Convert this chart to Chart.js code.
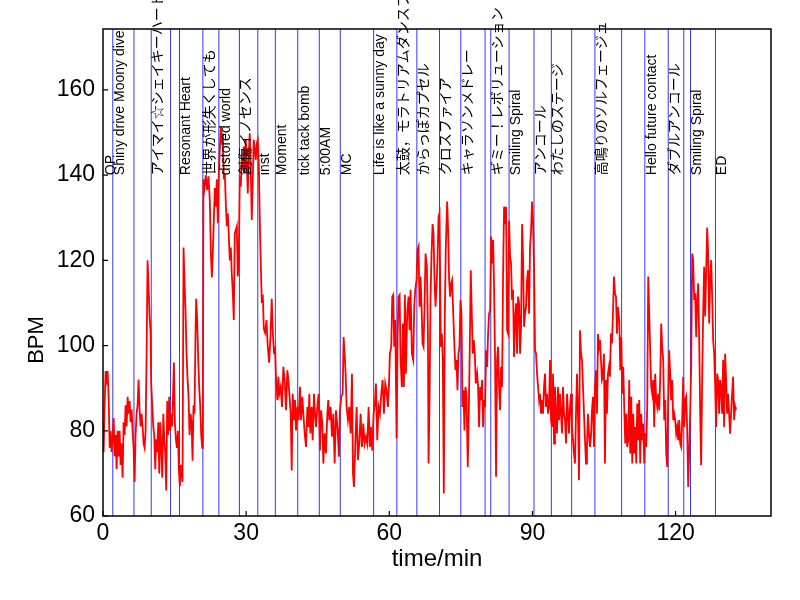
<!DOCTYPE html>
<html>
<head>
<meta charset="utf-8">
<script src="https://cdn.jsdelivr.net/npm/chart.js@4.4.0/dist/chart.umd.min.js"></script>
<style>
  body { margin: 0; background: #fff; }
</style>
</head>
<body>
<canvas id="hrChart" width="800" height="600"></canvas>
<script>
// heart rate over the concert (time in minutes)
const minutes = [
  0.00, 0.13, 0.34, 0.55, 0.76, 0.97, 1.18, 1.39, 1.60, 1.81,
  2.02, 2.23, 2.44, 2.64, 2.85, 3.06, 3.27, 3.48, 3.69, 3.90,
  4.11, 4.32, 4.53, 4.74, 4.95, 5.16, 5.37, 5.58, 5.79, 6.00,
  6.20, 6.41, 6.62, 6.83, 7.04, 7.25, 7.46, 7.67, 7.88, 8.09,
  8.30, 8.51, 8.72, 8.93, 9.14, 9.34, 9.55, 9.76, 9.97, 10.11,
  10.32, 10.53, 10.74, 10.95, 11.16, 11.37, 11.58, 11.79, 12.00, 12.21,
  12.42, 12.64, 12.84, 13.04, 13.25, 13.46, 13.67, 13.88, 14.09, 14.30,
  14.51, 14.86, 15.07, 15.28, 15.49, 15.70, 15.90, 16.11, 16.32, 16.53,
  16.67, 16.88, 17.09, 17.30, 17.51, 17.73, 17.93, 18.14, 18.35, 18.56,
  18.77, 18.97, 19.18, 19.39, 19.53, 19.74, 19.95, 20.17, 20.37, 20.58,
  20.79, 20.93,
  21.05, 21.27, 21.55, 21.83, 22.11, 22.39, 22.60, 22.81, 23.02, 23.23,
  23.44, 23.65, 23.86, 24.07, 24.27, 24.48, 24.69, 24.90, 25.11, 25.32,
  25.53, 25.74, 25.95, 26.16, 26.37, 26.58, 26.79, 26.98, 27.21, 27.41,
  27.62, 27.83, 28.04, 28.25, 28.46, 28.67, 28.88, 29.09, 29.30, 29.51,
  29.72, 29.93, 30.14, 30.35, 30.56, 30.76, 30.97, 31.18, 31.39, 31.60,
  31.81, 32.02, 32.23, 32.44, 32.65, 32.86, 33.07, 33.28, 33.49, 33.70,
  33.98, 34.26, 34.54, 34.82, 35.10, 35.36, 35.57, 35.85, 36.06,
  36.27, 36.55, 36.75, 36.96, 37.24, 37.52, 37.80, 38.08, 38.36, 38.64,
  38.85, 39.06, 39.34, 39.55, 39.76, 40.03, 40.24, 40.45, 40.73, 41.01,
  41.29, 41.50, 41.78, 41.99, 42.27, 42.55, 42.83, 43.04, 43.24, 43.45,
  43.73, 43.94, 44.22, 44.43, 44.64, 44.92, 45.20, 45.48, 45.69, 45.97,
  46.18, 46.45, 46.73, 47.01, 47.22, 47.43, 47.71, 47.99, 48.27, 48.55,
  48.83, 49.18, 49.45, 49.66, 49.94, 50.22, 50.43, 50.64, 50.85, 51.06,
  51.34, 51.62, 51.90, 52.18, 52.39, 52.60, 52.88, 53.15, 53.43, 53.71,
  53.99, 54.27, 54.55, 54.83, 55.11, 55.39, 55.67, 55.94, 56.15, 56.43,
  56.71, 56.99, 57.20, 57.48, 57.76, 58.04, 58.32, 58.60, 58.88, 59.15,
  59.43, 59.71, 59.92, 60.13, 60.41, 60.62, 60.83, 61.04, 61.25, 61.53,
  61.74, 61.95, 62.16, 62.37, 62.64, 62.85, 63.06, 63.27, 63.48, 63.76,
  64.04, 64.25, 64.46, 64.74, 65.02, 65.23, 65.44, 65.71, 65.92, 66.13,
  66.34, 66.55, 66.76, 66.97, 67.18, 67.39, 67.60, 67.88, 68.09, 68.23,
  68.44, 68.65, 68.86, 69.07, 69.27, 69.48, 69.69, 69.90, 70.11, 70.32,
  70.53,
  70.80, 71.01, 71.22, 71.43, 71.64, 71.85, 72.13, 72.33, 72.54, 72.75,
  72.96, 73.17, 73.38, 73.66, 73.87, 74.08, 74.29, 74.50, 74.71, 74.92,
  75.13, 75.34, 75.55, 75.75, 75.96, 76.17, 76.45, 76.66, 76.87, 77.08,
  77.29, 77.50, 77.71, 77.92, 78.13, 78.41, 78.61, 78.82, 79.03, 79.24,
  79.45, 79.66, 79.87, 80.08, 80.29, 80.50, 80.71, 80.92, 81.13, 81.34,
  81.55, 81.76, 81.97, 82.17, 82.38, 82.59, 82.80, 83.01, 83.22, 83.43,
  83.64, 83.85, 84.06, 84.27, 84.48, 84.69, 84.90, 85.11, 85.31, 85.52,
  85.73, 85.94, 86.15, 86.36, 86.57, 86.78, 86.99, 87.20, 87.41, 87.62,
  87.83, 88.04, 88.25, 88.45, 88.66, 88.87, 89.08, 89.29, 89.50, 89.71,
  89.92, 90.13, 90.34, 90.55, 90.76, 90.97, 91.18, 91.39, 91.59, 91.80,
  92.01, 92.22, 92.43, 92.64, 92.85, 93.06, 93.27, 93.48, 93.69, 93.90,
  94.11, 94.32, 94.53, 94.73, 94.94, 95.15, 95.36, 95.57, 95.78, 95.99,
  96.20, 96.41, 96.62, 96.83, 97.04, 97.25, 97.46, 97.67, 97.88, 98.09,
  98.29, 98.50, 98.71, 98.92, 99.13, 99.34, 99.55, 99.76, 99.97, 100.18,
  100.39, 100.60, 100.81, 101.02, 101.23, 101.43, 101.64, 101.85, 102.06, 102.27,
  102.48, 102.69, 102.90, 103.11, 103.32, 103.53, 103.74, 103.95, 104.16, 104.37,
  104.57, 104.78, 104.99, 105.20, 105.41, 105.62, 105.83, 106.04, 106.25, 106.46,
  106.67, 106.88, 107.09, 107.30, 107.51, 107.72, 107.92, 108.20,
  108.41, 108.62, 108.83, 109.03, 109.24, 109.45, 109.66, 109.87, 110.08, 110.29,
  110.50, 110.71, 110.92, 111.13, 111.34, 111.55, 111.76, 111.97, 112.17, 112.38,
  112.59, 112.80, 113.01, 113.22, 113.43, 113.64, 113.85, 114.06, 114.27, 114.48,
  114.69, 114.90, 115.11, 115.32, 115.52, 115.73, 115.94, 116.15, 116.36, 116.57,
  116.78, 116.99, 117.20, 117.41, 117.62, 117.83, 118.04, 118.25, 118.46, 118.66,
  118.87, 119.08, 119.29, 119.50, 119.71, 119.92, 120.13, 120.34, 120.55, 120.76,
  120.97, 121.18, 121.39, 121.60, 121.81, 122.02, 122.22, 122.43, 122.64, 122.85,
  123.06, 123.27, 123.48, 123.69, 123.90, 124.11, 124.32, 124.53, 124.74, 124.95,
  125.16, 125.36, 125.57, 125.78, 125.99, 126.20, 126.41, 126.62, 126.83, 127.04,
  127.25, 127.46, 127.67, 127.88, 128.09, 128.29, 128.50, 128.71, 128.92, 129.13,
  129.34, 129.55, 129.76, 129.97, 130.18, 130.39, 130.60, 130.80, 131.01, 131.22,
  131.43, 131.64, 131.85, 132.06, 132.27, 132.48, 132.62
];

const bpm = [
  82, 75, 86, 94, 92, 94, 88, 76, 80, 75,
  78, 83, 74, 79, 71, 80, 74, 80, 72, 77,
  69, 82, 79, 86, 81, 88, 84, 87, 82, 85,
  80, 76, 68, 79, 84, 86, 92, 85, 81, 84,
  81, 77, 76, 80, 98, 120, 114, 107, 103, 91,
  86, 81, 79, 71, 78, 75, 82, 70, 82, 76,
  69, 84, 78, 75, 66, 87, 79, 88, 80, 84,
  81, 96, 82, 78, 76, 80, 71, 67, 72, 70,
  68, 123, 115, 108, 98, 92, 88, 79, 84, 82,
  73, 86, 84, 103, 111, 106, 97, 90, 86, 79,
  76, 80,
  139, 137, 140, 136.5, 139.7, 134, 122, 116, 122, 129.5,
  137, 132.6, 139, 128.7, 140.4, 146, 151.4, 148.3, 149.8, 139,
  140.4, 133.4, 128, 131, 125.6, 120, 123, 117, 112.3, 106,
  126.4, 127.1, 128, 116.2, 120, 139.7, 137.3, 144.3, 141.2, 146.7,
  140.4, 148.3, 142.8, 135.7, 145.1, 149.8, 141.2, 129.5, 138.9, 148.3,
  146, 143.6, 147.5, 148.3, 142.8, 129.5, 119, 110, 112, 104,
  103, 106, 99.7, 96, 102, 111, 103.6, 98, 99.7,
  91.9, 87.2, 92.7, 88.7, 90.3, 85.6, 95.0, 91.9, 84.8, 94.2,
  91.9, 88.7, 84.0, 70.7, 88.7, 82.5, 87.2, 80.1, 85.6, 82.5,
  90.3, 82.5, 88.0, 84.0, 79.4, 76.2, 85.6, 80.9, 88.7, 79.4,
  85.6, 77.8, 88.7, 84.0, 80.9, 85.6, 88.7, 75.4, 84.8, 81.7,
  72.3, 79.4, 74.7, 84.0, 87.2, 82.5, 85.6, 78.6, 84.0, 72.3,
  84.8, 80.1, 73.9, 84.8, 88.0, 88.7, 102.0, 98.1, 93.4, 85.6,
  82.5, 85.6, 79.4, 93.4, 70.0, 66.8, 77.0, 85.6, 73.1, 77.0,
  84.0, 76.2, 81.7, 77.0, 78.6, 77.0, 85.6, 76.2, 80.9, 75.4,
  84.0, 86.4, 91.1, 77.8, 85.6, 84.0, 88.7, 91.9, 84.0, 91.1,
  89.5, 85.6, 90.3, 98.1, 99.7, 111.4, 111.9, 99.7, 106.0, 78.2,
  102.0, 111.5, 111.9, 96.6, 90.3, 105.2, 90.3, 111.9, 93.4, 107.5,
  111.5, 103.6, 113.1, 98.1, 96.6, 109.1, 113.1, 115.4, 122.4, 123.2,
  109.1, 116.2, 109.1, 100.5, 99.7, 109.1, 121.6, 118.5, 103.6, 72.3,
  87.2, 111.5, 121.6, 128.5, 126.3, 115.4, 109.1, 113.8, 120.1, 130.2,
  131.1,
  99.7, 102.8, 96.6, 65.3, 107.5, 123.2, 133.8, 127.1, 115.4, 111.5,
  114.6, 115.4, 108.3, 99.7, 94.2, 96.6, 89.5, 98.1, 99.7, 110.7,
  107.5, 85.6, 89.5, 80.1, 90.3, 88.7, 71.5, 84.0, 99.7, 117.7,
  107.5, 98.1, 101.3, 98.1, 91.1, 93.4, 90.3, 80.9, 90.3, 87.2,
  91.9, 80.9, 87.2, 85.6, 98.9, 95.0, 102.8, 107.5, 108.3, 125.6,
  119.3, 124.8, 113.1, 96.6, 69.2, 96.6, 99.7, 90.3, 84.8, 95.0,
  90.3, 117.0, 132.6, 128.5, 132.6, 103.6, 102.8, 129.3, 120.9, 119.3,
  110.7, 113.1, 97.3, 106.0, 109.9, 98.1, 111.5, 109.9, 98.1, 104.4,
  128.5, 120.1, 104.4, 107.5, 109.1, 115.4, 117.7, 107.5, 123.2, 126.9,
  133.8, 129.3, 118.5, 98.9, 98.1, 93.4, 90.3, 87.2, 88.7, 84.0,
  87.2, 84.0, 90.3, 93.4, 85.6, 88.7, 84.0, 85.6, 96.6, 82.5,
  80.9, 93.4, 77.0, 90.3, 84.0, 79.4, 90.3, 82.5, 88.7, 84.0,
  79.4, 90.3, 84.0, 82.5, 77.0, 88.7, 84.0, 79.4, 85.6, 88.7,
  80.9, 77.8, 74.7, 72.3, 84.0, 93.4, 84.0, 68.4, 103.6, 98.1,
  96.6, 90.3, 84.0, 77.8, 72.3, 76.2, 84.0, 79.4, 76.2, 78.6,
  84.8, 88.0, 76.2, 90.3, 94.2, 84.0, 102.7, 99.7, 101.3, 96.6,
  91.9, 92.7, 98.1, 72.3, 91.9, 84.0, 93.4, 95.0, 92.7, 102.8,
  100.5, 107.5, 116.2, 112.3, 111.5, 102.8, 109.1, 106.0,
  94.2, 102.0, 88.7, 95.0, 85.6, 77.0, 84.0, 76.2, 77.8, 91.9,
  74.7, 88.0, 72.3, 84.0, 74.7, 80.9, 72.3, 86.4, 77.8, 87.2,
  72.3, 84.0, 77.8, 81.7, 72.3, 79.4, 76.2, 85.6, 116.2, 107.5,
  98.1, 90.3, 88.7, 91.9, 80.9, 93.4, 87.2, 85.6, 88.7, 84.8,
  91.9, 105.2, 99.7, 96.6, 82.5, 87.2, 74.7, 71.5, 87.2, 98.9,
  93.4, 87.2, 91.9, 82.5, 84.0, 82.5, 79.4, 80.9, 77.8, 82.5,
  77.0, 76.2, 82.5, 92.7, 80.9, 87.2, 88.0, 80.9, 66.8, 74.7,
  84.0, 95.0, 121.6, 120.1, 110.7, 112.3, 102.0, 110.7, 114.6, 101.3,
  84.0, 71.9, 91.9, 107.5, 118.5, 106.8, 117.0, 127.7, 121.6, 105.2,
  115.4, 120.1, 111.5, 101.3, 98.1, 91.1, 80.9, 93.4, 91.9, 84.0,
  91.9, 90.3, 84.0, 96.6, 80.9, 98.1, 91.9, 84.0, 88.7, 84.0,
  79.3, 84.0, 88.7, 92.7, 82.5, 85.6, 84.8
];

// blue lines between songs (minutes)
const songLines = [2.05, 6.49, 10.11, 14.15, 16.03, 20.93, 24.28, 28.59, 32.44, 36.12,
  40.81, 45.33, 49.73, 56.72, 61.59, 65.78, 70.53, 74.99, 80.08, 81.27,
  85.10, 90.33, 93.97, 98.22, 103.10, 108.69, 113.56, 118.46, 121.72, 123.13, 128.36];

// set list labels and where they start
const songNames = ['OP', 'Shiny drive Moony dive', 'アイマイ☆シェイキーハート', 'Resonant Heart',
  '世界が形失くしても', 'distored world', '創傷イノセンス', 'inst', 'Moment', 'tick tack bomb',
  '5:00AM', 'MC', 'Life is like a sunny day', '太鼓，モラトリアムダンスフロア', 'からっぽカプセル',
  'クロスファイア', 'キャラソンメドレー', 'ギミー！レボリューション', 'Smiling Spiral', 'アンコール',
  'わたしのステージ', '高鳴りのソルフェージュ', 'Hello future contact', 'ダブルアンコール',
  'Smiling Spiral', 'ED'];
const songNameAt = [0.2, 2.05, 10.11, 16.03, 20.93, 24.28, 28.59, 32.44, 36.12, 40.81,
  45.33, 49.73, 56.72, 61.59, 65.78, 70.53, 74.99, 81.27, 85.10, 90.33,
  93.97, 103.10, 113.56, 118.46, 123.13, 128.36];
const labelBpm = 140;

const xTicks = [0, 30, 60, 90, 120];
const yTicks = [60, 80, 100, 120, 140, 160];

const points = minutes.map((t, i) => ({x: t, y: bpm[i]}));

const labelFont = '14px "Liberation Sans", "Noto Sans CJK JP", sans-serif';

const songPlugin = {
  id: 'songs',
  beforeDatasetsDraw(chart) {
    const {ctx, chartArea: a, scales: {x}} = chart;
    ctx.save();
    ctx.strokeStyle = '#3535ff';
    ctx.lineWidth = 1;
    songLines.forEach(t => {
      const px = x.getPixelForValue(t);
      ctx.beginPath();
      ctx.moveTo(px, a.top);
      ctx.lineTo(px, a.bottom);
      ctx.stroke();
    });
    ctx.restore();
  },
  afterDatasetsDraw(chart) {
    const {ctx, chartArea: a, scales: {x, y}} = chart;
    ctx.save();
    // song names, rotated
    ctx.font = labelFont;
    ctx.fillStyle = '#000';
    ctx.textAlign = 'left';
    ctx.textBaseline = 'top';
    songNames.forEach((name, i) => {
      ctx.save();
      ctx.translate(x.getPixelForValue(songNameAt[i]), y.getPixelForValue(labelBpm));
      ctx.rotate(-Math.PI / 2);
      ctx.fillText(name, 0, 0);
      ctx.restore();
    });
    // frame
    ctx.strokeStyle = '#000';
    ctx.lineWidth = 1.5;
    ctx.strokeRect(a.left, a.top, a.right - a.left, a.bottom - a.top);
    // inward ticks
    ctx.lineWidth = 1.2;
    ctx.beginPath();
    yTicks.forEach(v => {
      const py = y.getPixelForValue(v);
      ctx.moveTo(a.left, py);
      ctx.lineTo(a.left + 5, py);
    });
    xTicks.forEach(v => {
      const px = x.getPixelForValue(v);
      ctx.moveTo(px, a.bottom);
      ctx.lineTo(px, a.bottom - 5);
    });
    ctx.stroke();
    // axis titles
    ctx.textAlign = 'center';
    ctx.textBaseline = 'middle';
    ctx.font = '24px "Liberation Sans", sans-serif';
    ctx.fillText('time/min', (a.left + a.right) / 2, 559);
    ctx.font = '22px "Liberation Sans", sans-serif';
    ctx.save();
    ctx.translate(37, 340);
    ctx.rotate(-Math.PI / 2);
    ctx.fillText('BPM', 0, 0);
    ctx.restore();
    ctx.restore();
  }
};

const tickFont = {family: '"Liberation Sans", sans-serif', size: 23};

new Chart(document.getElementById('hrChart').getContext('2d'), {
  type: 'line',
  data: {
    datasets: [{
      data: points,
      borderColor: '#ff0000',
      borderWidth: 1.8,
      pointRadius: 0,
      tension: 0,
      fill: false
    }]
  },
  options: {
    responsive: false,
    animation: false,
    devicePixelRatio: 1,
    layout: {padding: {top: 29, right: 29, left: 0, bottom: 0}},
    plugins: {legend: {display: false}, tooltip: {enabled: false}},
    scales: {
      x: {
        type: 'linear',
        min: 0,
        max: 140,
        grid: {display: false, drawTicks: false},
        border: {display: false},
        afterFit: s => { s.height = 84; },
        ticks: {stepSize: 30, includeBounds: false, padding: 4, color: '#000', font: tickFont, maxRotation: 0}
      },
      y: {
        min: 60,
        max: 174.3,
        grid: {display: false, drawTicks: false},
        border: {display: false},
        afterFit: s => { s.width = 103; },
        ticks: {stepSize: 20, includeBounds: false, padding: 8, color: '#000', font: tickFont}
      }
    }
  },
  plugins: [songPlugin]
});
</script>
</body>
</html>
